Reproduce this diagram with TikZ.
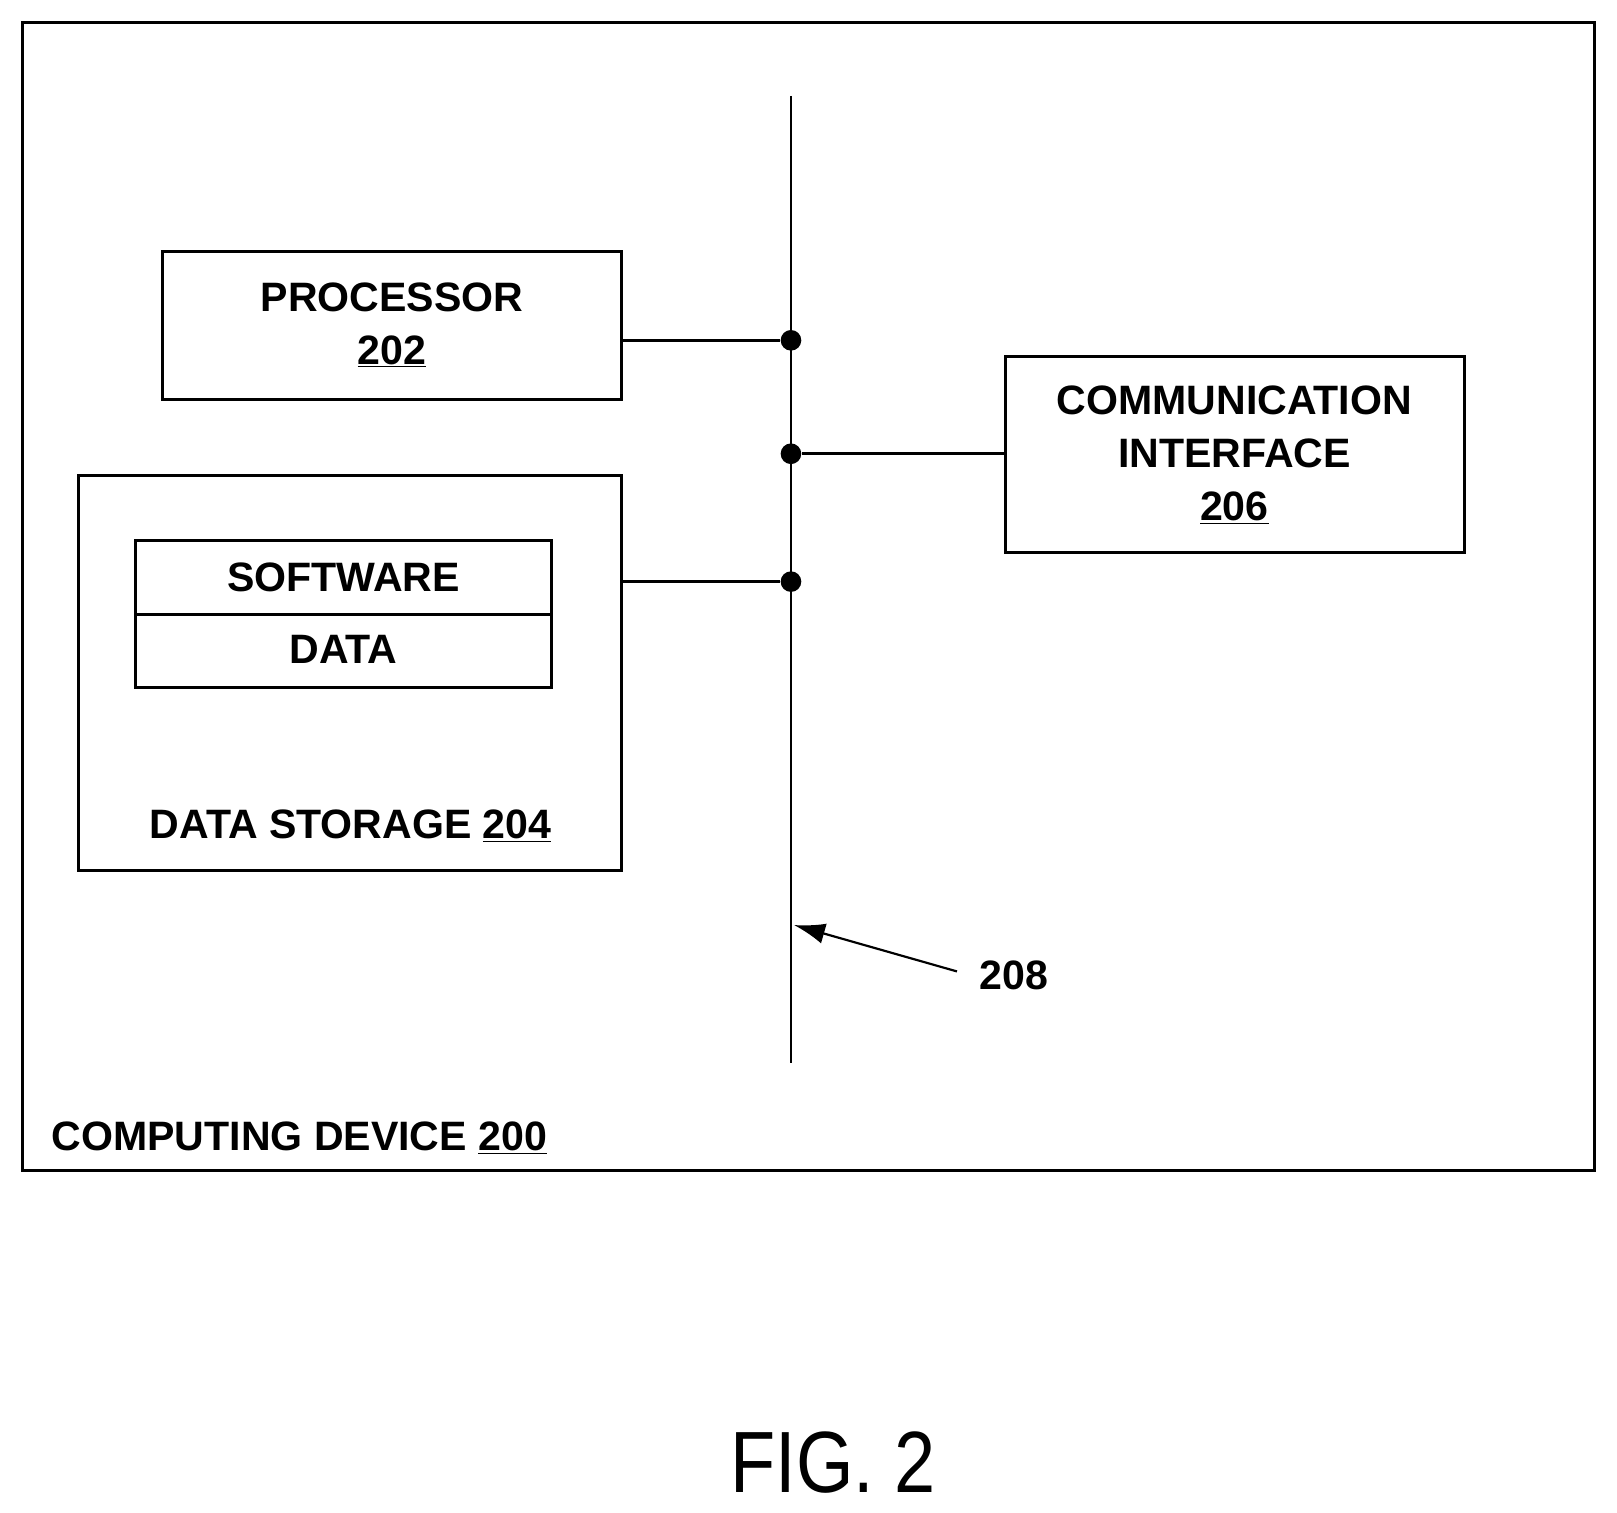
\documentclass[tikz,border=0pt]{standalone}
\usepackage{fontspec}
\setmainfont{Liberation Sans}
\usetikzlibrary{positioning,arrows.meta}
\tikzset{
  blk/.style={draw, line width=2.4pt, inner sep=0pt},
  lbl/.style={font=\fontsize{34}{44}\selectfont\bfseries, align=center},
  bus/.style={line width=2.4pt},
  dot/.style={circle, fill, inner sep=0pt, minimum size=0.6cm}
}
\begin{document}
\begin{tikzpicture}[x=0.03cm,y=-0.03cm]
    % Frame
    \useasboundingbox (0,0) rectangle (1568,1467);
    \draw[line width=2.4pt] (22,22) rectangle (1546,1135);
    \node[lbl, anchor=base west] (dev) at (46,1116) {COMPUTING DEVICE \underline{200}};
    % Processor
    \draw[blk] (158,244) rectangle (603,387);
    \coordinate (procR) at (603,330);
    \node[lbl] (proc) at (380,315) {PROCESSOR\\\underline{202}};
    % Data storage
    \draw[blk] (76,461) rectangle (603,844);
    \coordinate (storR) at (603,564);
    \draw[blk] (131,524) rectangle (535,667);
    \draw[blk] (131,596) -- (535,596);
    \node[lbl] (soft) at (333,560) {SOFTWARE};
    \node[lbl] (data) at (333,630) {DATA};
    \node[lbl] (stor) at (340,801) {DATA STORAGE \underline{204}};
    % Communication interface
    \draw[blk] (975,346) rectangle (1420,536);
    \coordinate (commL) at (975,440);
    \node[lbl] (comm) at (1197,441) {COMMUNICATION\\INTERFACE\\\underline{206}};
    % Bus
    \coordinate (busT) at (767,93);
    \coordinate (busB) at (767,1031);
    \draw[bus] (busT) -- (busB);
    \node[dot] (d1) at (767,330) {};
    \node[dot] (d2) at (767,440) {};
    \node[dot] (d3) at (767,564) {};
    \draw[bus] (procR) -- (d1);
    \draw[bus] (commL) -- (d2);
    \draw[bus] (storR) -- (d3);
    % Reference numeral
    \node[lbl] (num) at (983,946) {208};
    \coordinate (tip) at (770,897);
    \draw[line width=1.8pt, -{Latex[length=0.9cm,width=0.6cm]}] (928,942) -- (tip);
    % Caption
    \node[font=\fontsize{72}{80}\selectfont] (fig) at (808,1418) {\scalebox{0.85}[1]{FIG. 2}};
\end{tikzpicture}
\end{document}
